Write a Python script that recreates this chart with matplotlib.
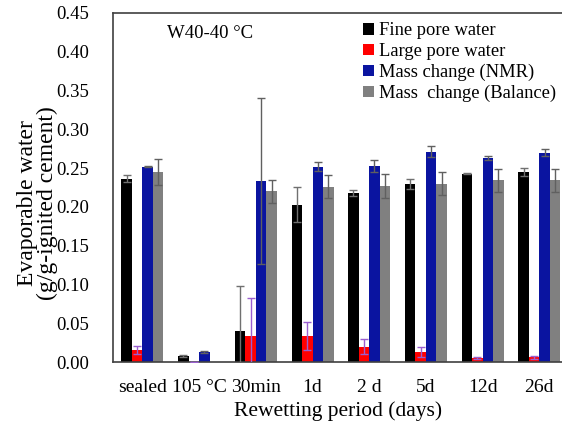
import matplotlib.pyplot as plt
import numpy as np

plt.rcParams['font.family'] = ['Liberation Serif', 'DejaVu Serif']

categories = ['sealed', '105 °C', '30min', '1d', '2 d', '5d', '12d', '26d']
series = ['Fine pore water', 'Large pore water', 'Mass change (NMR)', 'Mass  change (Balance)']

fine = [0.236, 0.008, 0.040, 0.203, 0.218, 0.229, 0.243, 0.245]
fine_err = [0.0045, 0.001, 0.058, 0.023, 0.004, 0.0065, 0.001, 0.0055]
large = [0.016, 0.0, 0.034, 0.033, 0.020, 0.013, 0.005, 0.006]
large_err = [0.005, 0.0, 0.049, 0.018, 0.010, 0.006, 0.001, 0.0015]
nmr = [0.252, 0.013, 0.233, 0.252, 0.253, 0.271, 0.263, 0.270]
nmr_err = [0.001, 0.001, 0.107, 0.0055, 0.008, 0.007, 0.003, 0.0043]
balance = [0.245, np.nan, 0.220, 0.226, 0.227, 0.230, 0.234, 0.234]
balance_err = [0.0165, np.nan, 0.0147, 0.015, 0.015, 0.0146, 0.015, 0.015]

values = [fine, large, nmr, balance]
errors = [fine_err, large_err, nmr_err, balance_err]
colors = ['#000000', '#ff0000', '#0a14a0', '#808080']
err_colors = ['#707070', '#9a5fd0', '#606060', '#606060']

fig = plt.figure(figsize=(5.62, 4.30), dpi=100)
ax = fig.add_axes([0.201, 0.158, 0.80, 0.812])

x = np.arange(len(categories))
w = 0.185
for i in range(4):
    pos = x + (i - 1.5) * w
    ax.bar(pos, values[i], w, color=colors[i], label=series[i], zorder=2)
    ax.errorbar(pos, values[i], yerr=errors[i], fmt='none', ecolor=err_colors[i],
                elinewidth=1, capsize=3, capthick=1, zorder=3)

ax.set_xlim(-0.52, 7.41)
ax.set_ylim(0, 0.45)
ax.set_yticks(np.arange(0, 0.451, 0.05))
ax.set_yticklabels([f'{v:.2f}' for v in np.arange(0, 0.451, 0.05)])
ax.set_xticks(x)
ax.set_xticklabels(categories)
ax.tick_params(axis='x', length=0, labelsize=14, pad=12)
ax.tick_params(axis='y', length=0, labelsize=13.5, pad=17)
ax.spines['right'].set_visible(False)
for s in ['left', 'top', 'bottom']:
    ax.spines[s].set_color('#404040')
    ax.spines[s].set_linewidth(1.2)

ax.set_xlabel('Rewetting period (days)', fontsize=15.5, labelpad=4)
ax.set_ylabel('Evaporable water\n(g/g-ignited cement)', fontsize=17, linespacing=0.95)
ax.yaxis.set_label_coords(-0.122, 0.455)
ax.text(0.12, 0.94, 'W40-40 °C', transform=ax.transAxes, fontsize=13.5, va='center')

ax.legend(loc='upper right', bbox_to_anchor=(1.01, 1.005), frameon=False, fontsize=13.3,
          handlelength=0.6, handleheight=0.6, handletextpad=0.25, labelspacing=0.2,
          borderaxespad=0.2)

fig.savefig('out.png', dpi=100)
